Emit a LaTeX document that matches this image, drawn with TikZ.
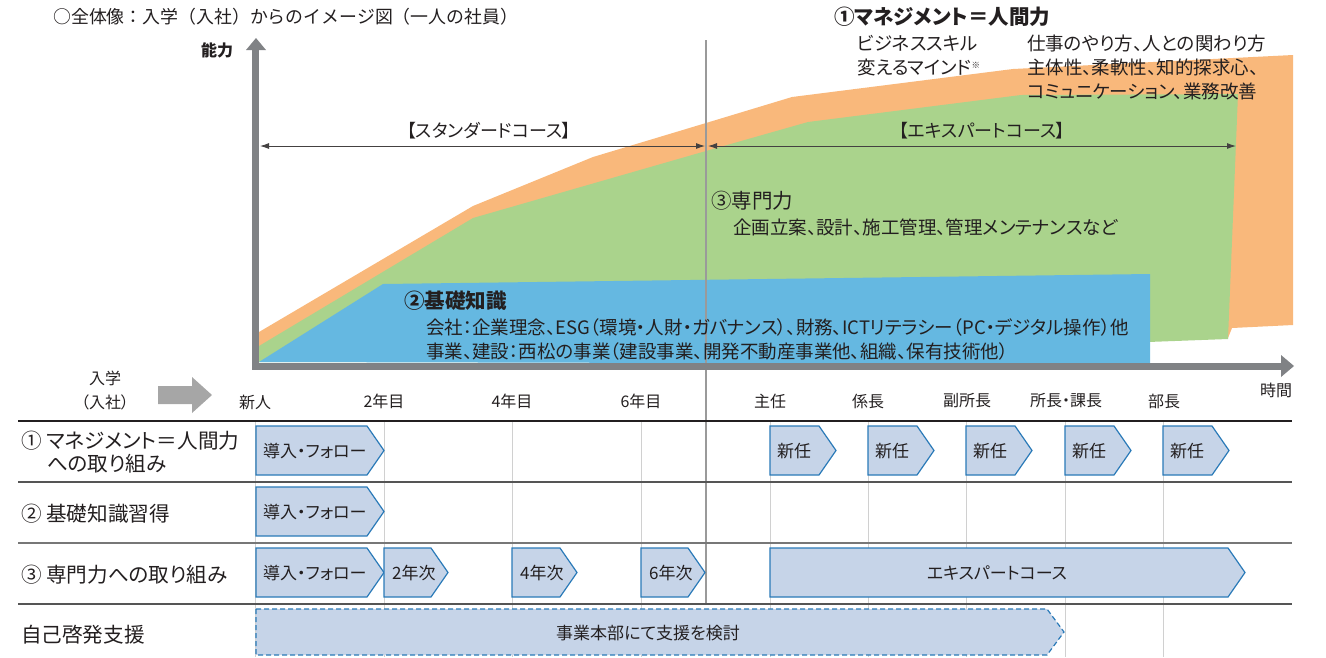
\documentclass[tikz,border=0pt]{standalone}
\usepackage{fontspec}
\setmainfont{Noto Sans CJK JP}[RawFeature={+palt}]
\newfontfamily\jpfull{Noto Sans CJK JP}
\usetikzlibrary{arrows.meta}
\definecolor{orangeA}{HTML}{F9B87B}
\definecolor{greenA}{HTML}{AAD38C}
\definecolor{blueA}{HTML}{65B8E1}
\definecolor{axisgray}{HTML}{808285}
\definecolor{chevfill}{HTML}{C6D4E8}
\definecolor{chevline}{HTML}{2A7AB8}
\definecolor{txt}{HTML}{231F20}
\definecolor{gridgray}{HTML}{D0D0D0}
\definecolor{vgray}{HTML}{9A9A9A}
\definecolor{rowline}{HTML}{555555}
\definecolor{entryarrow}{HTML}{A6A6A6}
\newcommand\chev[5][]{\path[chevstyle,#1] (#2,#4) -- ({#3-17},#4) -- (#3,{(#4+#5)/2}) -- ({#3-17},#5) -- (#2,#5) -- cycle;}
\begin{document}
\begin{tikzpicture}[x=1pt,y=-1pt,
  every node/.style={text=txt, inner sep=0pt},
  titletext/.style={font=\jpfull\fontsize{17.9}{21}\selectfont},
  bodytext/.style={font=\fontsize{18.5}{22}\selectfont},
  coursetext/.style={font=\fontsize{18}{21}\selectfont},
  headtext/.style={font=\fontsize{20.5}{24}\selectfont\bfseries},
  ticktext/.style={font=\fontsize{16}{19}\selectfont},
  rowtext/.style={font=\fontsize{20.6}{24}\selectfont},
  chevtext/.style={font=\fontsize{17}{20}\selectfont},
  chevstyle/.style={fill=chevfill, draw=chevline, line width=1.2pt, line join=miter},
  course/.style={{Latex[length=9pt,width=6pt]}-{Latex[length=9pt,width=6pt]}, line width=0.9pt, draw=txt!85},
]
\useasboundingbox (0,0) rectangle (1326,657);

% ---------- areas ----------
\fill[orangeA] (259,332) -- (473,206) -- (593,157) -- (706,123) -- (792,97) -- (1013,69) -- (1293,55) -- (1293,325) -- (1232,328) -- (1228,338) -- (259,362) -- cycle;
\fill[greenA] (259,346) -- (473,218) -- (706,151) -- (808,122) -- (1021,95) -- (1238,94) -- (1228,339) -- (1148,342) -- (1148,362) -- (259,362) -- cycle;
\fill[blueA] (259,362) -- (383,284) -- (1150,274) -- (1150,364) -- cycle;

% ---------- vertical divider ----------
\coordinate (divtop) at (706,40);
\coordinate (divbot) at (706,605);

% ---------- table grid ----------
\foreach \gx in {255,384,512,641,770,868,966,1065,1163}
  \draw[gridgray, line width=1pt] (\gx,421) -- (\gx,657);
\draw[vgray, line width=1.4pt] (divtop) -- (divbot);
\draw[txt, line width=2pt] (18,421) -- (1292,421);
\draw[rowline, line width=1.4pt] (18,482) -- (1292,482);
\draw[rowline!80, line width=1.4pt] (18,543) -- (1292,543);
\draw[rowline, line width=1.4pt] (18,604) -- (1292,604);

% ---------- axes ----------
\fill[axisgray] (251.5,50) rectangle (258.5,370);
\fill[axisgray] (246,50) -- (266,50) -- (256,38) -- cycle;
\fill[axisgray] (251.5,362.5) rectangle (1283,369.5);
\fill[axisgray] (1281,355) -- (1281,377) -- (1294,366) -- cycle;

% ---------- course arrows ----------
\coordinate (stdL) at (260,146);
\coordinate (stdR) at (705,146);
\coordinate (expL) at (708,146);
\coordinate (expR) at (1236,146);
\draw[course] (stdL) -- (stdR);
\draw[course] (expL) -- (expR);
\node[coursetext] (stdlab) at (489,131) {【スタンダードコース】};
\node[coursetext] (explab) at (982,131) {【エキスパートコース】};

% ---------- texts in chart ----------
\node[titletext, anchor=west] (title) at (53,17) {○全体像：入学（入社）からのイメージ図（一人の社員）};
\node[font=\fontsize{16}{19}\selectfont\bfseries] (ylab) at (217,50) {能力};
\node[headtext, anchor=west] (mgmt) at (834,17) {①マネジメント＝人間力};
\node[bodytext, anchor=west] (mg1) at (857,43) {ビジネススキル};
\node[bodytext, anchor=west] (mg2) at (857,67) {変えるマインド\raisebox{0.55ex}{\fontsize{8.5}{8.5}\selectfont ※}};
\node[bodytext, anchor=west] (mg3) at (1027,43) {仕事のやり方、人との関わり方};
\node[bodytext, anchor=west] (mg4) at (1027,67) {主体性、柔軟性、知的探求心、};
\node[bodytext, anchor=west] (mg5) at (1027,91) {コミュニケーション、業務改善};
\node[font=\fontsize{20.5}{24}\selectfont, anchor=west] (senmon) at (711,201) {③専門力};
\node[bodytext, anchor=west] (sm1) at (733,227) {企画立案、設計、施工管理、管理メンテナンスなど};
\node[headtext, anchor=west] (kiso) at (404,301) {②基礎知識};
\node[bodytext, anchor=west] (ks1) at (426,327) {会社：企業理念、ESG（環境・人財・ガバナンス）、財務、ICTリテラシー（PC・デジタル操作）他};
\node[bodytext, anchor=west] (ks2) at (426,351) {事業、建設：西松の事業（建設事業、開発不動産事業他、組織、保有技術他）};

% ---------- time axis labels ----------
\node[ticktext] (nyu1) at (105,378) {入学};
\node[ticktext] (nyu2) at (105,402) {（入社）};
\fill[entryarrow] (158,386) -- (192,386) -- (192,377) -- (212,395) -- (192,413) -- (192,404) -- (158,404) -- cycle;
\node[ticktext] (t0) at (255,402) {新人};
\node[ticktext] (t2) at (384,401) {2年目};
\node[ticktext] (t4) at (512,401) {4年目};
\node[ticktext] (t6) at (641,401) {6年目};
\node[ticktext] (p1) at (770,401) {主任};
\node[ticktext] (p2) at (868,401) {係長};
\node[ticktext] (p3) at (967,401) {副所長};
\node[ticktext] (p4) at (1066,401) {所長・課長};
\node[ticktext] (p5) at (1164,401) {部長};
\node[ticktext] (xlab) at (1276,390) {時間};

% ---------- row labels ----------
\node[rowtext, anchor=west] (r1a) at (21,441) {① マネジメント＝人間力};
\node[rowtext, anchor=west] (r1b) at (47,464) {への取り組み};
\node[rowtext, anchor=west] (r2) at (21,514) {② 基礎知識習得};
\node[rowtext, anchor=west] (r3) at (21,575) {③ 専門力への取り組み};
\node[rowtext, anchor=west] (r4) at (21,635) {自己啓発支援};

% ---------- chevrons ----------
\chev{256}{384}{426}{475}
\node[chevtext, anchor=west] (c1) at (263,451) {導入・フォロー};
\foreach \a/\b [count=\i] in {770/836,868/934,966/1032,1065/1131,1163/1229}{
  \chev{\a}{\b}{426}{475}
  \node[chevtext, anchor=west] (s\i) at (\a+7,451) {新任};
}
\chev{256}{384}{487}{536}
\node[chevtext, anchor=west] (c2) at (263,512) {導入・フォロー};
\chev{256}{384}{548}{597}
\node[chevtext, anchor=west] (c3) at (263,573) {導入・フォロー};
\chev{384}{448}{548}{597}
\node[chevtext, anchor=west] (y2) at (392,573) {2年次};
\chev{512}{577}{548}{597}
\node[chevtext, anchor=west] (y4) at (520,573) {4年次};
\chev{641}{705}{548}{597}
\node[chevtext, anchor=west] (y6) at (649,573) {6年次};
\chev{770}{1245}{548}{597}
\node[chevtext] (ex) at (997,573) {エキスパートコース};
\chev[dashed, dash pattern=on 5pt off 3pt]{256}{1064}{609}{655}
\node[chevtext] (sd) at (648,633) {事業本部にて支援を検討};
\end{tikzpicture}
\end{document}
